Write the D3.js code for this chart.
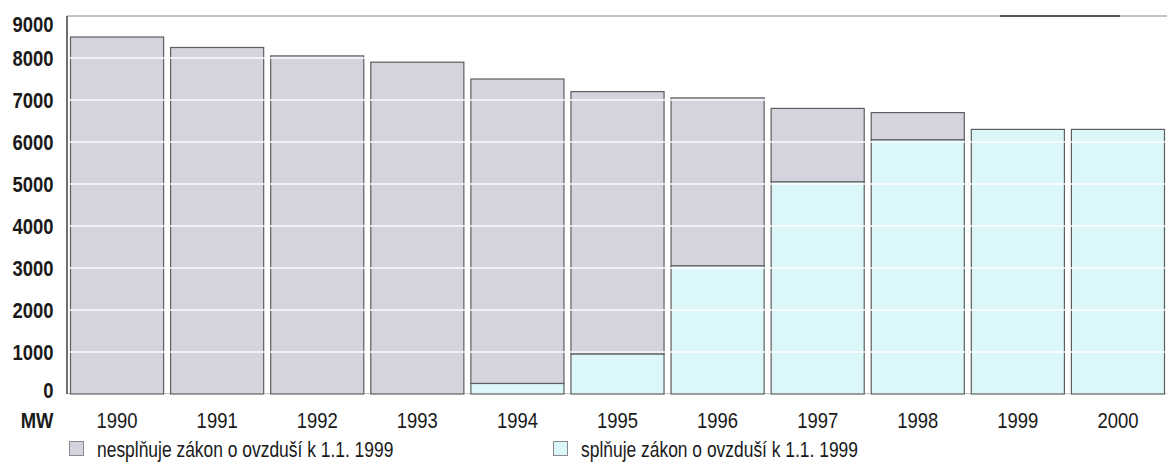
<!DOCTYPE html>
<html>
<head>
<meta charset="utf-8">
<script src="https://cdn.jsdelivr.net/npm/d3@7"></script>
<style>
  html, body { margin: 0; padding: 0; background: #fff; }
  svg { display: block; }
  text { font-family: "Liberation Sans", Arial, sans-serif; fill: #1a1a1a; }
</style>
</head>
<body>
<svg id="chart" width="1167" height="463"></svg>
<script>
// Installed capacity (MW) by year, split by compliance with the air act as of 1.1.1999
const years = ["1990", "1991", "1992", "1993", "1994", "1995", "1996", "1997", "1998", "1999", "2000"];
const totalMW = [8500, 8250, 8050, 7900, 7500, 7200, 7050, 6800, 6700, 6300, 6300];
const compliantMW = [0, 0, 0, 0, 250, 950, 3050, 5050, 6050, 6300, 6300];
const yTicks = [0, 1000, 2000, 3000, 4000, 5000, 6000, 7000, 8000, 9000];
const seriesNames = ["nesplňuje zákon o ovzduší k 1.1. 1999", "splňuje zákon o ovzduší k 1.1. 1999"];
const colors = { non: "#d5d3de", ok: "#dcf7fa", stroke: "#5e5e5e" };

const svg = d3.select("#chart");
const plotLeft = 67, plotRight = 1168, plotTop = 16, plotBottom = 394;
const fontSize = 22.5;

const x = d3.scaleBand().domain(years).range([plotLeft, plotRight]).paddingInner(0.07).paddingOuter(0.035);
const y = d3.scaleLinear().domain([0, 9000]).range([plotBottom, plotTop]);

// text squeezed horizontally for a condensed sans look
function label(px, py, str, opts = {}) {
  return svg.append("text")
    .attr("transform", `translate(${px},${py}) scale(${opts.squeeze || 0.775},1)`)
    .attr("text-anchor", opts.anchor || "start")
    .attr("font-size", fontSize)
    .attr("font-weight", opts.bold ? "bold" : "normal")
    .text(str);
}

// top frame line
svg.append("line").attr("x1", plotLeft).attr("x2", 1167).attr("y1", plotTop).attr("y2", plotTop)
  .attr("stroke", "#b0b0b0").attr("stroke-width", 1.5);
svg.append("line").attr("x1", 1000).attr("x2", 1120).attr("y1", plotTop).attr("y2", plotTop)
  .attr("stroke", "#333").attr("stroke-width", 1.5);

// baseline
svg.append("line").attr("x1", plotLeft).attr("x2", 1167).attr("y1", plotBottom - 0.5).attr("y2", plotBottom - 0.5)
  .attr("stroke", "#c4c4c4").attr("stroke-width", 1);

const rows = years.map((yr, i) => ({ year: yr, total: totalMW[i], ok: compliantMW[i] }));

const g = svg.append("g");
rows.forEach(d => {
  const bx = x(d.year), bw = x.bandwidth();
  // non-compliant part, stacked above the compliant part
  if (d.total > d.ok) {
    g.append("rect").attr("x", bx).attr("width", bw)
      .attr("y", y(d.total)).attr("height", y(d.ok) - y(d.total))
      .attr("fill", colors.non).attr("stroke", colors.stroke).attr("stroke-width", 1.2);
  }
  if (d.ok > 0) {
    g.append("rect").attr("x", bx).attr("width", bw)
      .attr("y", y(d.ok)).attr("height", y(0) - y(d.ok))
      .attr("fill", colors.ok).attr("stroke", colors.stroke).attr("stroke-width", 1.2);
  }
});

// light gridlines across the bars
svg.append("g").selectAll("line").data(yTicks.filter(t => t > 0 && t < 9000)).join("line")
  .attr("x1", plotLeft + 2).attr("x2", 1167)
  .attr("y1", d => y(d)).attr("y2", d => y(d))
  .attr("stroke", "#ffffff").attr("stroke-width", 1.8).attr("opacity", 0.7);

// left axis line
svg.append("line").attr("x1", plotLeft).attr("x2", plotLeft).attr("y1", plotTop).attr("y2", plotBottom)
  .attr("stroke", "#222").attr("stroke-width", 1.3);

// y tick labels (kept inside the frame at both ends)
yTicks.forEach(t => {
  const ty = Math.min(Math.max(y(t), 24), 389.5);
  label(53.5, ty + 8, d3.format("d")(t), { anchor: "end", bold: true, squeeze: 0.82 });
});

// x labels
years.forEach(yr => {
  label(x(yr) + x.bandwidth() / 2, 427.5, yr, { anchor: "middle", squeeze: 0.82 });
});

label(53.5, 427.5, "MW", { anchor: "end", bold: true, squeeze: 0.82 });

// legend
const legendX = [69, 553];
const legendFill = [colors.non, colors.ok];
seriesNames.forEach((name, i) => {
  svg.append("rect").attr("x", legendX[i] + 0.5).attr("y", 441.5).attr("width", 14).attr("height", 14)
    .attr("fill", legendFill[i]).attr("stroke", "#8a8a8a").attr("stroke-width", 1);
  label(legendX[i] + 28, 457, name);
});
</script>
</body>
</html>
